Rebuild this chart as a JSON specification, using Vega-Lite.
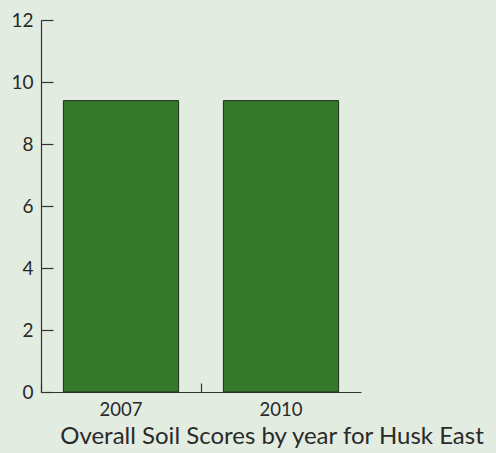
{
  "$schema": "https://vega.github.io/schema/vega-lite/v6.json",
  "width": 320,
  "height": 372,
  "autosize": {"type": "none"},
  "padding": {"left": 41, "top": 20, "right": 135, "bottom": 61},
  "background": "#e2ece0",
  "config": {
    "view": {"stroke": null},
    "font": "Lato",
    "axis": {"domainColor": "#333333", "tickColor": "#333333", "labelColor": "#2a2a2a", "labelFont": "Lato", "domainWidth": 1.2, "tickWidth": 1.2}
  },
  "title": {
    "text": "Overall Soil Scores by year for Husk East",
    "orient": "bottom",
    "fontSize": 24,
    "fontWeight": "normal",
    "color": "#2a2a2a",
    "font": "Lato",
    "offset": 6,
    "dx": 71
  },
  "data": {"values": [
    {"year": "2007", "score": 9.4},
    {"year": "2010", "score": 9.4}
  ]},
  "mark": {"type": "bar", "width": {"band": 0.72}, "color": "#35782c", "stroke": "#1c2e1a", "strokeWidth": 1},
  "encoding": {
    "x": {
      "field": "year", "type": "nominal",
      "scale": {"paddingInner": 0, "paddingOuter": 0},
      "axis": {"title": null, "labelAngle": 0, "labelFontSize": 18.5, "bandPosition": 0, "tickSize": -9, "labelPadding": 17}
    },
    "y": {
      "field": "score", "type": "quantitative",
      "scale": {"domain": [0, 12], "nice": false},
      "axis": {"title": null, "values": [0, 2, 4, 6, 8, 10, 12], "grid": false, "labelFontSize": 19, "tickSize": -12, "labelPadding": 20}
    }
  }
}
